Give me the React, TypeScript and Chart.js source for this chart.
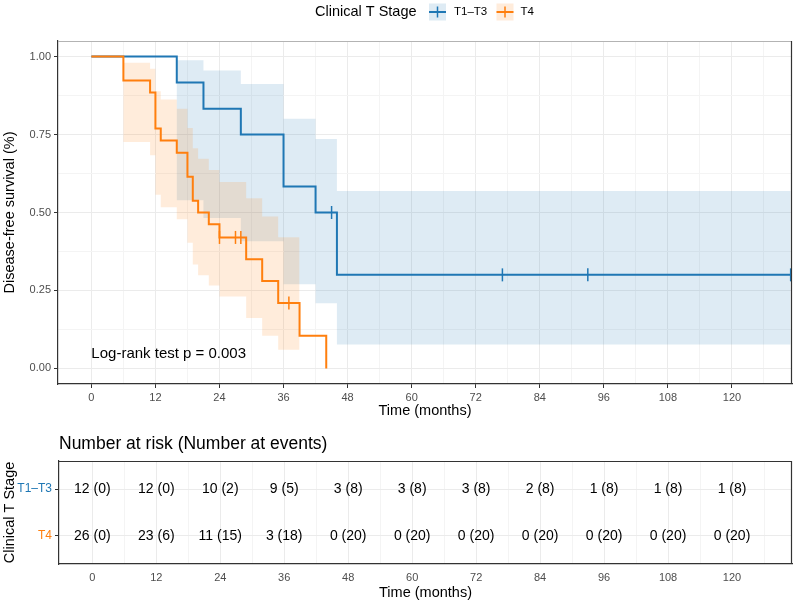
import React, { useEffect, useRef } from 'react';
import { Chart, registerables } from 'chart.js';

Chart.register(...registerables);

const FONT = "'Liberation Sans', Arial, Helvetica, sans-serif";
const W = 794;
const MAIN_H = 430;
const TABLE_H = 173;

const BLUE = '#1F77B4';
const ORANGE = '#FF7F0E';
const BLUE_FILL = 'rgba(31,119,180,0.15)';
const ORANGE_FILL = 'rgba(255,127,14,0.15)';

const STRATA = ['T1–T3', 'T4'];

// Kaplan–Meier estimate, T1–T3 (step times in months and survival after each step)
const t13Time = [0, 16, 21, 28, 36, 42, 46, 131];
const t13Surv = [1, 0.917, 0.833, 0.75, 0.583, 0.5, 0.3, 0.3];
const t13Upper = [1, 0.988, 0.955, 0.912, 0.801, 0.736, 0.569, 0.569];
const t13Lower = [1, 0.539, 0.482, 0.408, 0.27, 0.209, 0.077, 0.077];
const t13CensorTime = [45, 77, 93, 131];
const t13CensorSurv = [0.5, 0.3, 0.3, 0.3];

// Kaplan–Meier estimate, T4
const t4Time = [0, 6, 11, 12, 13, 16, 18, 19, 20, 22, 24, 29, 32, 35, 39, 44];
const t4Surv = [1, 0.923, 0.885, 0.769, 0.731, 0.692, 0.615, 0.538, 0.5, 0.462, 0.42, 0.35, 0.28, 0.21, 0.105, 0];
const t4Upper = [1, 0.98, 0.961, 0.889, 0.862, 0.833, 0.771, 0.706, 0.672, 0.636, 0.598, 0.546, 0.487, 0.421, 0.34];
const t4Lower = [1, 0.726, 0.684, 0.557, 0.517, 0.478, 0.403, 0.333, 0.299, 0.266, 0.231, 0.162, 0.105, 0.06, 0.009];
const t4CensorTime = [24, 27, 28, 37];
const t4CensorSurv = [0.42, 0.42, 0.42, 0.21];

// Axis breaks
const xMajor = [0, 12, 24, 36, 48, 60, 72, 84, 96, 108, 120];
const xMinor = [6, 18, 30, 42, 54, 66, 78, 90, 102, 114, 126];
const yMajor = [0, 0.25, 0.5, 0.75, 1];
const yMinor = [0.125, 0.375, 0.625, 0.875];
const yTickLabels = ['0.00', '0.25', '0.50', '0.75', '1.00'];

// Number at risk (cumulative number of events) at each break
const riskTimes = [0, 12, 24, 36, 48, 60, 72, 84, 96, 108, 120];
const t13Risk = [12, 12, 10, 9, 3, 3, 3, 2, 1, 1, 1];
const t13Events = [0, 0, 2, 5, 8, 8, 8, 8, 8, 8, 8];
const t4Risk = [26, 23, 11, 3, 0, 0, 0, 0, 0, 0, 0];
const t4Events = [0, 6, 15, 18, 20, 20, 20, 20, 20, 20, 20];

const X_MIN = -6.25;
const X_MAX = 131.25;
const P_VALUE_TEXT = 'Log-rank test p = 0.003';

const pts = (xs: number[], ys: number[]) => ys.map((y, i) => ({ x: xs[i], y }));
const allX = [...xMajor, ...xMinor].sort((a, b) => a - b);
const allY = [...yMajor, ...yMinor].sort((a, b) => a - b);
const isMajorX = (v: number) => xMajor.includes(v);
const isMajorY = (v: number) => yMajor.includes(v);

const font = (size: number) => `${size}px ${FONT}`;

const hidden = {
  borderColor: 'rgba(0,0,0,0)',
  borderWidth: 0,
  pointRadius: 0,
  pointHitRadius: 0,
  stepped: 'before' as const,
};

function xScale(height: number, drawTickMarks: boolean) {
  return {
    type: 'linear' as const,
    min: X_MIN,
    max: X_MAX,
    afterBuildTicks: (s: any) => {
      s.ticks = allX.map((v) => ({ value: v }));
    },
    afterFit: (s: any) => {
      s.height = height;
    },
    ticks: {
      autoSkip: false,
      maxRotation: 0,
      padding: 3,
      color: '#4D4D4D',
      font: { family: FONT, size: 11 },
      callback: (v: any) => (isMajorX(v) ? String(v) : ''),
    },
    grid: {
      color: (c: any) => (c.tick && isMajorX(c.tick.value) ? '#EBEBEB' : '#F4F4F4'),
      lineWidth: 1,
      tickLength: 4,
      tickWidth: 1,
      tickColor: (c: any) =>
        drawTickMarks && c.tick && isMajorX(c.tick.value) ? '#333333' : 'rgba(0,0,0,0)',
    },
    border: { display: true, color: '#333333', width: 1.2 },
  };
}

const mainDecor = {
  id: 'mainDecor',
  afterDraw(chart: any) {
    const { ctx, chartArea: a, scales } = chart;
    ctx.save();
    // panel frame: light top edge, dark right edge
    ctx.lineWidth = 1.2;
    ctx.strokeStyle = '#B3B3B3';
    ctx.beginPath();
    ctx.moveTo(a.left, a.top + 0.5);
    ctx.lineTo(a.right, a.top + 0.5);
    ctx.stroke();
    ctx.strokeStyle = '#333333';
    ctx.beginPath();
    ctx.moveTo(a.right - 0.5, a.top);
    ctx.lineTo(a.right - 0.5, a.bottom);
    ctx.stroke();

    // p-value annotation
    ctx.fillStyle = '#000';
    ctx.font = font(15);
    ctx.textAlign = 'left';
    ctx.textBaseline = 'middle';
    ctx.fillText(P_VALUE_TEXT, scales.x.getPixelForValue(0), scales.y.getPixelForValue(0.048));

    // axis titles
    ctx.font = font(14.5);
    ctx.textAlign = 'center';
    ctx.textBaseline = 'middle';
    ctx.fillText('Time (months)', (a.left + a.right) / 2, 411);
    ctx.save();
    ctx.translate(14, (a.top + a.bottom) / 2);
    ctx.rotate(-Math.PI / 2);
    ctx.textBaseline = 'alphabetic';
    ctx.fillText('Disease-free survival (%)', 0, 0);
    ctx.restore();

    // legend
    const cy = 12;
    ctx.font = font(14.5);
    ctx.textAlign = 'left';
    ctx.textBaseline = 'middle';
    ctx.fillStyle = '#000';
    ctx.fillText('Clinical T Stage', 315, cy);
    const keys = [
      { cx: 437.5, color: BLUE, fill: BLUE_FILL, label: STRATA[0], lx: 454 },
      { cx: 505, color: ORANGE, fill: ORANGE_FILL, label: STRATA[1], lx: 520.5 },
    ];
    keys.forEach((k) => {
      ctx.fillStyle = k.fill;
      ctx.fillRect(k.cx - 8.5, cy - 8.5, 17, 17);
      ctx.strokeStyle = k.color;
      ctx.lineWidth = 2;
      ctx.beginPath();
      ctx.moveTo(k.cx - 8.5, cy);
      ctx.lineTo(k.cx + 8.5, cy);
      ctx.stroke();
      ctx.lineWidth = 1.5;
      ctx.beginPath();
      ctx.moveTo(k.cx, cy - 5.5);
      ctx.lineTo(k.cx, cy + 5.5);
      ctx.stroke();
      ctx.fillStyle = '#000';
      ctx.font = font(11.5);
      ctx.fillText(k.label, k.lx, cy);
    });
    ctx.restore();
  },
};

const tableDecor = {
  id: 'tableDecor',
  afterDatasetsDraw(chart: any) {
    const { ctx } = chart;
    const rows = [
      { risk: t13Risk, events: t13Events },
      { risk: t4Risk, events: t4Events },
    ];
    ctx.save();
    ctx.fillStyle = '#000';
    ctx.font = font(14);
    ctx.textAlign = 'center';
    ctx.textBaseline = 'middle';
    rows.forEach((r, di) => {
      const meta = chart.getDatasetMeta(di);
      meta.data.forEach((el: any, i: number) => {
        ctx.fillText(`${r.risk[i]} (${r.events[i]})`, el.x, el.y);
      });
    });
    ctx.restore();
  },
  afterDraw(chart: any) {
    const { ctx, chartArea: a } = chart;
    ctx.save();
    ctx.strokeStyle = '#333333';
    ctx.lineWidth = 1.2;
    ctx.beginPath();
    ctx.moveTo(a.left, a.top + 0.5);
    ctx.lineTo(a.right - 0.5, a.top + 0.5);
    ctx.lineTo(a.right - 0.5, a.bottom);
    ctx.stroke();

    ctx.fillStyle = '#000';
    ctx.font = font(17.5);
    ctx.textAlign = 'left';
    ctx.textBaseline = 'middle';
    ctx.fillText('Number at risk (Number at events)', 59, 14);

    ctx.font = font(14.5);
    ctx.textAlign = 'center';
    ctx.fillText('Time (months)', (a.left + a.right) / 2, 163);
    ctx.save();
    ctx.translate(14, (a.top + a.bottom) / 2);
    ctx.rotate(-Math.PI / 2);
    ctx.textBaseline = 'alphabetic';
    ctx.fillText('Clinical T Stage', 0, 0);
    ctx.restore();
    ctx.restore();
  },
};

function mainConfig(): any {
  return {
    type: 'line',
    data: {
      datasets: [
        {
          label: STRATA[1],
          data: pts(t4Time, t4Surv),
          borderColor: ORANGE,
          borderWidth: 2,
          stepped: 'before',
          pointRadius: 0,
          fill: false,
          order: 0,
        },
        {
          label: STRATA[1] + ' censored',
          data: pts(t4CensorTime, t4CensorSurv),
          showLine: false,
          pointStyle: 'line',
          rotation: 90,
          pointRadius: 6.5,
          pointBorderWidth: 1.5,
          pointBorderColor: ORANGE,
          pointBackgroundColor: ORANGE,
          fill: false,
          order: -1,
        },
        {
          label: STRATA[0],
          data: pts(t13Time, t13Surv),
          borderColor: BLUE,
          borderWidth: 2,
          stepped: 'before',
          pointRadius: 0,
          fill: false,
          order: 1,
        },
        {
          label: STRATA[0] + ' censored',
          data: pts(t13CensorTime, t13CensorSurv),
          showLine: false,
          pointStyle: 'line',
          rotation: 90,
          pointRadius: 6.5,
          pointBorderWidth: 1.5,
          pointBorderColor: BLUE,
          pointBackgroundColor: BLUE,
          fill: false,
          order: -1,
        },
        { label: 'T4 lower', data: pts(t4Time, t4Lower), ...hidden, fill: false, order: 2 },
        { label: 'T4 upper', data: pts(t4Time, t4Upper), ...hidden, fill: '-1', backgroundColor: ORANGE_FILL, order: 2 },
        { label: 'T1–T3 lower', data: pts(t13Time, t13Lower), ...hidden, fill: false, order: 3 },
        { label: 'T1–T3 upper', data: pts(t13Time, t13Upper), ...hidden, fill: '-1', backgroundColor: BLUE_FILL, order: 3 },
      ],
    },
    options: {
      responsive: false,
      animation: false,
      devicePixelRatio: 1,
      events: [],
      layout: { autoPadding: false, padding: { top: 41, right: 2, left: 0, bottom: 0 } },
      plugins: { legend: { display: false }, tooltip: { enabled: false } },
      scales: {
        x: xScale(46, true),
        y: {
          type: 'linear',
          min: -0.05,
          max: 1.05,
          afterBuildTicks: (s: any) => {
            s.ticks = allY.map((v) => ({ value: v }));
          },
          afterFit: (s: any) => {
            s.width = 58;
          },
          ticks: {
            autoSkip: false,
            padding: 3,
            color: '#4D4D4D',
            font: { family: FONT, size: 11 },
            callback: (v: any) => {
              const i = yMajor.indexOf(v);
              return i >= 0 ? yTickLabels[i] : '';
            },
          },
          grid: {
            color: (c: any) => (c.tick && isMajorY(c.tick.value) ? '#EBEBEB' : '#F4F4F4'),
            lineWidth: 1,
            tickLength: 4,
            tickWidth: 1,
            tickColor: (c: any) => (c.tick && isMajorY(c.tick.value) ? '#333333' : 'rgba(0,0,0,0)'),
          },
          border: { display: true, color: '#333333', width: 1.2 },
        },
      },
    },
    plugins: [mainDecor],
  };
}

function tableConfig(): any {
  return {
    type: 'scatter',
    data: {
      datasets: [
        { label: STRATA[0], data: riskTimes.map((t) => ({ x: t, y: 2 })), pointRadius: 0 },
        { label: STRATA[1], data: riskTimes.map((t) => ({ x: t, y: 1 })), pointRadius: 0 },
      ],
    },
    options: {
      responsive: false,
      animation: false,
      devicePixelRatio: 1,
      events: [],
      layout: { autoPadding: false, padding: { top: 31, right: 2, left: 0, bottom: 0 } },
      plugins: { legend: { display: false }, tooltip: { enabled: false } },
      scales: {
        x: xScale(39, false),
        y: {
          type: 'linear',
          min: 0.4,
          max: 2.6,
          afterBuildTicks: (s: any) => {
            s.ticks = [{ value: 1 }, { value: 2 }];
          },
          afterFit: (s: any) => {
            s.width = 59;
          },
          ticks: {
            autoSkip: false,
            padding: 3,
            font: { family: FONT, size: 12 },
            color: (c: any) => (c.tick && c.tick.value === 2 ? BLUE : ORANGE),
            callback: (v: any) => (v === 2 ? STRATA[0] : STRATA[1]),
          },
          grid: {
            color: '#EBEBEB',
            lineWidth: 1,
            tickLength: 4,
            tickWidth: 1,
            tickColor: '#333333',
          },
          border: { display: true, color: '#333333', width: 1.2 },
        },
      },
    },
    plugins: [tableDecor],
  };
}

export default function App() {
  const mainRef = useRef<HTMLCanvasElement>(null);
  const tableRef = useRef<HTMLCanvasElement>(null);

  useEffect(() => {
    const main = new Chart(mainRef.current as HTMLCanvasElement, mainConfig());
    const table = new Chart(tableRef.current as HTMLCanvasElement, tableConfig());
    return () => {
      main.destroy();
      table.destroy();
    };
  }, []);

  return (
    <div style={{ position: 'absolute', left: 0, top: 0, width: W, height: MAIN_H + TABLE_H, background: '#fff' }}>
      <canvas ref={mainRef} width={W} height={MAIN_H} style={{ display: 'block', width: W, height: MAIN_H }} />
      <canvas ref={tableRef} width={W} height={TABLE_H} style={{ display: 'block', width: W, height: TABLE_H }} />
    </div>
  );
}
